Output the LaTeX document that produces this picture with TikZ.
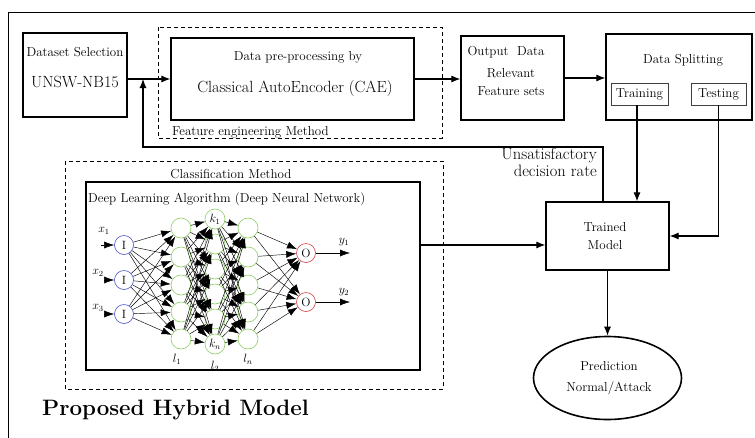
\documentclass[tikz,border=0pt]{standalone}
\usetikzlibrary{arrows.meta,shapes.geometric}
\definecolor{nblue}{RGB}{70,80,200}
\definecolor{ngreen}{RGB}{140,205,100}
\definecolor{nred}{RGB}{215,60,60}
\begin{document}
\begin{tikzpicture}[x=1pt,y=-1pt,
  box/.style={draw,line width=1.2pt,inner sep=0pt},
  sbox/.style={draw=black!75,line width=0.8pt,inner sep=0pt},
  dbox/.style={draw,line width=0.7pt,dash pattern=on 4pt off 3pt},
  arr/.style={line width=1.1pt,-{Latex[length=9pt,width=7pt]}},
  narr/.style={line width=0.45pt,-{Latex[length=10pt,width=7pt]}},
  txt/.style={inner sep=0pt,font=\fontsize{13}{15.5}\selectfont},
  big/.style={inner sep=0pt,font=\fontsize{16.2}{19}\selectfont},
  inp/.style={circle,draw=nblue,line width=0.6pt,minimum size=19pt,inner sep=0pt,font=\fontsize{12}{14}\selectfont},
  hid/.style={circle,draw=ngreen,line width=0.6pt,minimum size=20pt,inner sep=0pt,font=\fontsize{12}{14}\selectfont},
  outn/.style={circle,draw=nred,line width=0.6pt,minimum size=19pt,inner sep=0pt,font=\fontsize{12}{14}\selectfont},
  mlab/.style={inner sep=0pt,font=\fontsize{12}{14}\selectfont}]
\useasboundingbox (0,0) rectangle (755,437);
% outer frame (clipped by page)
\draw[line width=1pt] (8,440) -- (8,12) -- (760,12);
% top row
\node[box,minimum width=104pt,minimum height=84pt] (ds) at (75,75) {};
\node[txt] (dst) at (75,52) {Dataset Selection};
\node[big] (dsn) at (75,82) {UNSW-NB15};
\draw[dbox] (158,27) rectangle (442,138);
\node[txt,anchor=west] (fel) at (172,132) {Feature engineering Method};
\node[box,minimum width=243pt,minimum height=82pt] (cae) at (292.5,79) {};
\node[txt] (caet) at (298,57) {Data pre-processing by};
\node[big] (caen) at (295,88) {Classical AutoEncoder (CAE)};
\node[box,minimum width=103pt,minimum height=84pt] (out) at (512.5,78) {};
\node[txt] (outt) at (506,52) {Output\ \ Data};
\node[txt,align=center] (outr) at (511,82) {Relevant\\[2.5pt]Feature sets};
\node[box,minimum width=146pt,minimum height=86pt] (split) at (679,77) {};
\node[txt] (splitt) at (683,60) {Data Splitting};
\node[sbox,minimum width=57pt,minimum height=22pt] (train) at (639.5,94) {};
\node[txt] (traint) at (639.5,94) {Training};
\node[sbox,minimum width=55pt,minimum height=22pt] (test) at (718.5,94) {};
\node[txt] (testt) at (718.5,94) {Testing};
\draw[arr] (ds.east |- cae.west) -- (cae.west);
\draw[arr] (cae.east) -- (out.west |- cae.east);
\draw[arr] (out.east) -- (split.west |- out.east);
% trained model
\node[box,minimum width=123pt,minimum height=68pt] (tm) at (607.5,236) {};
\node[txt,align=center] (tmt) at (605,236) {Trained\\[2.5pt]Model};
\node[ellipse,draw,line width=1.6pt,minimum width=148pt,minimum height=83pt,inner sep=0pt] (pred) at (607.5,378) {};
\node[txt,align=center] (predt) at (609,378) {Prediction\\[5.5pt]Normal/Attack};
\draw[arr] ([xshift=-2.5pt]train.south) -- ([xshift=-2.5pt]train.south |- tm.north);
\draw[arr] (test.south) |- (tm.east);
\draw[arr] (tm.south) -- (pred.north);
\coordinate (fbtop) at (603,147);
\coordinate (fbleft) at (143,147);
\draw[arr] (fbtop |- tm.north) -- (fbtop) -- (fbleft) -- (fbleft |- cae.west);
\node[align=right,anchor=north east,inner sep=0pt,font=\fontsize{16.5}{16.5}\selectfont] (uns) at (597,148) {Unsatisfactory\\decision rate};
% classification
\draw[dbox] (65,161) rectangle (443,389);
\node[txt] (clt) at (231,174) {Classification Method};
\node[box,minimum width=334pt,minimum height=188pt] (dl) at (253,276) {};
\node[txt,anchor=west] (dlt) at (88,199) {Deep Learning Algorithm (Deep Neural Network)};
\coordinate (dlout) at (420,245);
\draw[arr] (dlout) -- (dlout -| tm.west);
% network
\foreach \i/\y in {1/245,2/280,3/314} \node[inp] (I\i) at (124,\y) {I};
\foreach \i/\y in {1/228,2/257,3/285,4/312,5/339} \node[hid] (A\i) at (181,\y) {};
\foreach \i/\y in {1/219,2/244,3/269,4/294,5/319,6/344} \node[hid] (B\i) at (215,\y) {};
\foreach \i/\y in {1/228,2/257,3/285,4/312,5/339} \node[hid] (C\i) at (248,\y) {};
\node[outn] (O1) at (306,253) {O};
\node[outn] (O2) at (306,302) {O};
\node[mlab] at (B1) {$k_1$};
\node[mlab] at (B6) {$k_n$};
\foreach \i in {1,2,3} \foreach \j in {1,...,5} \draw[narr] (I\i) -- (A\j);
\foreach \i in {1,...,5} \foreach \j in {1,...,6} \draw[narr] (A\i) -- (B\j);
\foreach \i in {1,...,6} \foreach \j in {1,...,5} \draw[narr] (B\i) -- (C\j);
\foreach \i in {1,...,5} \foreach \j in {1,2} \draw[narr] (C\i) -- (O\j);
\node[mlab] (x1) at (104,231) {$x_1$};
\node[mlab] (x2) at (98,273) {$x_2$};
\node[mlab] (x3) at (98,308) {$x_3$};
\coordinate (x1s) at (101,245);
\coordinate (x2s) at (107,280);
\coordinate (x3s) at (107,314);
\draw[narr] (x1s) -- (I1);
\draw[narr] (x2s) -- (I2);
\draw[narr] (x3s) -- (I3);
\coordinate (y1e) at (350,253);
\coordinate (y2e) at (350,302);
\draw[narr] (O1) -- (y1e);
\draw[narr] (O2) -- (y2e);
\node[mlab] (y1) at (344,242) {$y_1$};
\node[mlab] (y2) at (344,292) {$y_2$};
\node[mlab] (l1) at (177,359) {$l_1$};
\node[mlab] (l2) at (215,366) {$l_2$};
\node[mlab] (ln) at (248,359) {$l_n$};
% title
\node[inner sep=0pt,anchor=west,font=\fontsize{22.3}{26}\bfseries] (title) at (42,410) {Proposed Hybrid Model};
\end{tikzpicture}
\end{document}
